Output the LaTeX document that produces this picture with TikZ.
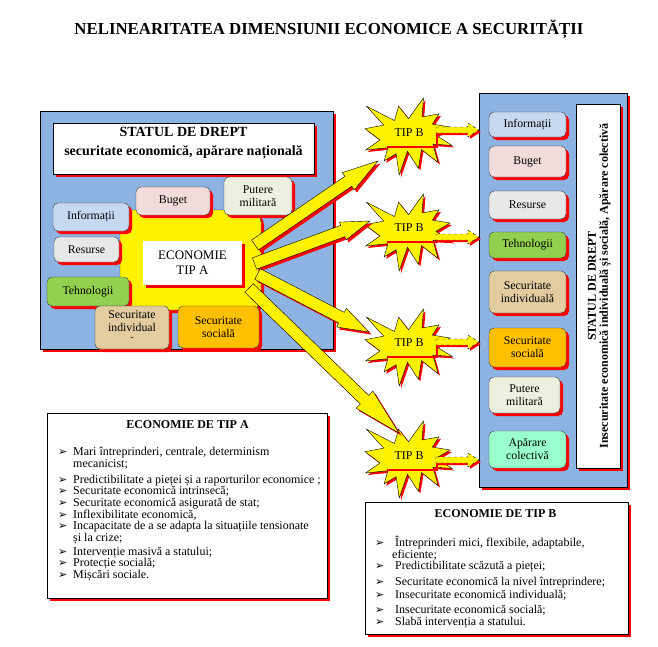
\documentclass[tikz,border=0pt]{standalone}
\usepackage{fontspec}
\setmainfont{Liberation Serif}
\newfontfamily\symfont{DejaVu Sans}
\usetikzlibrary{math,calc,shadows}

\definecolor{panelblue}{RGB}{141,179,226}
\definecolor{infoblue}{RGB}{198,217,241}
\definecolor{bugetpink}{RGB}{242,220,219}
\definecolor{puteregreen}{RGB}{235,241,222}
\definecolor{resursegray}{RGB}{232,232,232}
\definecolor{tehnogreen}{RGB}{146,208,80}
\definecolor{indtan}{RGB}{226,204,160}
\definecolor{socorange}{RGB}{255,192,0}
\definecolor{apmint}{RGB}{153,255,204}

\tikzset{
  redshadow/.style={general shadow={fill=red, shadow xshift=#1, shadow yshift=-#1}},
  redshadow/.default=3pt,
  panel/.style={draw=black, fill=panelblue, inner sep=0pt, redshadow},
  whitebox/.style={draw=black, fill=white, inner sep=0pt, redshadow},
  itembox/.style={draw=black!75, rounded corners=5pt, inner sep=0pt, align=center,
    font=\fontsize{11.8}{13}\selectfont, redshadow},
  burst/.style={draw=black, fill=yellow, redshadow=2pt},
  tipb/.style={inner sep=0pt, minimum width=50pt, minimum height=26pt,
    font=\fontsize{12}{12}\selectfont},
  redline/.style={draw=red, line width=1.6pt},
  yellowarrow/.style={draw=black, fill=yellow, redshadow=2.5pt},
  dasharrow/.style={draw=black, dashed, fill=yellow, redshadow=2pt},
  listline/.style={anchor=base west, inner sep=0pt, font=\fontsize{12}{12}\selectfont},
}

\newcommand{\bul}[1][15pt]{\makebox[#1][l]{\symfont\fontsize{11}{11}\selectfont ➢}}

% explosion shape, #1 = top left corner (87 x 77)
\newcommand{\explosion}[1]{%
  \draw[burst, shift={#1}, x=0.40278pt, y=-0.35648pt]
    (108,58) -- (83.52,22.95) -- (73.12,63.2) -- (3.7,22.95) -- (46.27,76.17) -- (0,86.15)
    -- (37.22,117.75) -- (1.35,145.87) -- (56.67,139.37) -- (47.62,176.17) -- (77.15,156.27)
    -- (84.85,216) -- (105.32,149.35) -- (132.47,197.37) -- (140.2,144.57) -- (181.45,180.95)
    -- (168.37,129.42) -- (216,132.9) -- (176.07,104.75) -- (210.97,81.37) -- (167.02,73.15)
    -- (183.8,44.57) -- (141.55,53.25) -- (145.22,0) -- cycle;}

% block arrow: [style]{from}{to}{half shaft}{half head}{head length}
\newcommand{\blockarrow}[6][yellowarrow]{%
  \draw[#1] let \p1=(#2), \p2=(#3), \n1={atan2(\y2-\y1,\x2-\x1)},
      \n2={veclen(\x2-\x1,\y2-\y1)-#6} in
    ($(\p1)+(\n1+90:#4)$) -- ($(\p1)+(\n1:\n2)+(\n1+90:#4)$)
    -- ($(\p1)+(\n1:\n2)+(\n1+90:#5)$) -- (\p2)
    -- ($(\p1)+(\n1:\n2)+(\n1-90:#5)$) -- ($(\p1)+(\n1:\n2)+(\n1-90:#4)$)
    -- ($(\p1)+(\n1-90:#4)$) -- cycle;}

\begin{document}
\begin{tikzpicture}[x=1pt, y=-1pt]
  \tikzmath{\rx = 527.5; \rw = 77;}
  \useasboundingbox (0,0) rectangle (658,646);

  \node[font=\fontsize{16.8}{18}\selectfont\bfseries] (title) at (329,29)
    {NELINEARITATEA DIMENSIUNII ECONOMICE A SECURITĂȚII};

  % left panel, statul de drept
  \node[panel, minimum width=293pt, minimum height=238pt] (lpanel) at (186.5,230) {};
  \node[whitebox, minimum width=261pt, minimum height=51pt] (ltitle) at (183.5,148.5) {};
  \node[font=\fontsize{14}{18.5}\selectfont\bfseries, align=center] (ltitletxt) at (183.5,143)
    {STATUL DE DREPT\\securitate economică, apărare națională};

  % economie tip A
  \node[draw=black!80, fill=yellow, rounded corners=12pt, inner sep=0pt, redshadow,
    minimum width=141pt, minimum height=100pt] (core) at (190.5,260) {};
  \node[whitebox, draw=none, minimum width=99pt, minimum height=44pt, align=center,
    font=\fontsize{13}{15}\selectfont] (ecoA) at (192.5,263) {ECONOMIE\\TIP A};

  % boxes round economie tip A
  \node[itembox, fill=infoblue, minimum width=76pt, minimum height=28pt] (lInfo) at (91,217) {Informații};
  \node[itembox, fill=bugetpink, minimum width=74pt, minimum height=28pt] (lBuget) at (173,201) {Buget};
  \node[itembox, fill=puteregreen, minimum width=68pt, minimum height=38pt] (lPutere) at (258,196) {Putere\\militară};
  \node[itembox, fill=resursegray, minimum width=65pt, minimum height=25pt] (lResurse) at (86.5,249.5) {Resurse};
  \node[itembox, fill=tehnogreen, minimum width=82pt, minimum height=29pt] (lTehno) at (88,291.5) {Tehnologii};
  \node[itembox, fill=indtan, minimum width=74pt, minimum height=43pt] (lSecInd) at (132,327.5)
    {Securitate\\individual\\[-1pt]{\fontsize{9}{9}\selectfont ˇ}};
  \node[itembox, fill=socorange, minimum width=81pt, minimum height=42pt] (lSecSoc) at (218.5,327) {Securitate\\socială};

  % right panel
  \node[panel, minimum width=148pt, minimum height=394pt] (rpanel) at (553,290) {};
  \node[whitebox, minimum width=44pt, minimum height=364pt] (rtitle) at (598,286) {};
  \node[rotate=90, align=center, font=\fontsize{12}{12}\selectfont\bfseries] (rtitletxt) at (599.5,286)
    {STATUL DE DREPT\\Insecuritate economică individuală și socială, Apărare colectivă};

  \node[itembox, fill=infoblue, minimum width=\rw pt, minimum height=25pt] (rInfo) at (\rx,124.5) {Informații};
  \node[itembox, fill=bugetpink, minimum width=\rw pt, minimum height=31pt] (rBuget) at (\rx,161.5) {Buget};
  \node[itembox, fill=resursegray, minimum width=\rw pt, minimum height=28pt] (rResurse) at (\rx,205) {Resurse};
  \node[itembox, fill=tehnogreen, minimum width=\rw pt, minimum height=26pt] (rTehno) at (\rx,245) {Tehnologii};
  \node[itembox, fill=indtan, minimum width=\rw pt, minimum height=42pt] (rSecInd) at (\rx,292) {Securitate\\individuală};
  \node[itembox, fill=socorange, minimum width=\rw pt, minimum height=39pt] (rSecSoc) at (\rx,347.5) {Securitate\\socială};
  \node[itembox, fill=puteregreen, minimum width=71pt, minimum height=36pt] (rPutere) at (524.5,395) {Putere\\militară};
  \node[itembox, fill=apmint, minimum width=\rw pt, minimum height=37pt] (rAparare) at (\rx,449.5) {Apărare\\colectivă};

  % tip B explosions
  \explosion{(365,98)}
  \explosion{(365,194)}
  \explosion{(365,309)}
  \explosion{(365,421)}
  \node[tipb] (b1) at (409,133) {TIP B};
  \node[tipb] (b2) at (409,228) {TIP B};
  \node[tipb] (b3) at (409,343) {TIP B};
  \node[tipb] (b4) at (409,456) {TIP B};

  % dashed arrows to the right panel
  \coordinate (d1) at (436,130);
  \coordinate (d2) at (436,237);
  \coordinate (d3) at (436,342);
  \coordinate (d4) at (436,460);
  \foreach \k in {1,...,4} {
    \draw[redline] ($(b\k.south west)+(3,1)$) -| ($(d\k)+(1,0)$);
    \blockarrow[dasharrow]{d\k}{d\k -| rpanel.west}{3pt}{7pt}{11pt}
  }

  % big arrows from economie tip A
  \coordinate (s1) at (255,245);   \coordinate (t1) at (378,161);
  \coordinate (s2) at (254.5,263.5); \coordinate (t2) at (370,221);
  \coordinate (s3) at (257.5,274); \coordinate (t3) at (369,332);
  \coordinate (s4) at (249,288);   \coordinate (t4) at (399,433);
  \blockarrow{s1}{t1}{6pt}{10.5pt}{36pt}
  \blockarrow{s2}{t2}{6pt}{9.5pt}{29pt}
  \blockarrow{s3}{t3}{6pt}{10.5pt}{31pt}
  \blockarrow{s4}{t4}{6pt}{12pt}{48pt}

  % economie de tip A
  \node[whitebox, minimum width=280pt, minimum height=185pt] (boxA) at (187,505.5) {};
  \node[font=\fontsize{12}{12}\selectfont\bfseries] (boxAtitle) at (187.5,425) {ECONOMIE DE TIP A};
  \foreach \y/\t [count=\i] in {
      455/{\bul Mari întreprinderi, centrale, determinism},
      467/{\hspace*{15pt}mecanicist;},
      483/{\bul Predictibilitate a pieței și a raporturilor economice ;},
      494.5/{\bul Securitate economică intrinsecă;},
      506/{\bul Securitate economică asigurată de stat;},
      518/{\bul Inflexibilitate economică,},
      529.5/{\bul Incapacitate de a se adapta la situațiile tensionate},
      541/{\hspace*{15pt}și la crize;},
      555/{\bul Intervenție masivă a statului;},
      566.5/{\bul Protecție socială;},
      578/{\bul Mișcări sociale.}}
    \node[listline] (la\i) at (58,\y) {\t};

  % economie de tip B
  \node[whitebox, minimum width=263pt, minimum height=132pt] (boxB) at (496.5,568) {};
  \node[font=\fontsize{12}{12}\selectfont\bfseries] (boxBtitle) at (495.5,513.3) {ECONOMIE DE TIP B};
  \foreach \y/\t [count=\i] in {
      546/{\bul[17pt] Întreprinderi mici, flexibile, adaptabile,},
      558.5/{\hspace*{17pt}eficiente;},
      569.5/{\bul[17pt] Predictibilitate scăzută a pieței;},
      585/{\bul[17pt] Securitate economică la nivel întreprindere;},
      598/{\bul[17pt] Insecuritate economică individuală;},
      613/{\bul[17pt] Insecuritate economică socială;},
      625/{\bul[17pt] Slabă intervenția a statului.}}
    \node[listline] (lb\i) at (375,\y) {\t};
\end{tikzpicture}
\end{document}
